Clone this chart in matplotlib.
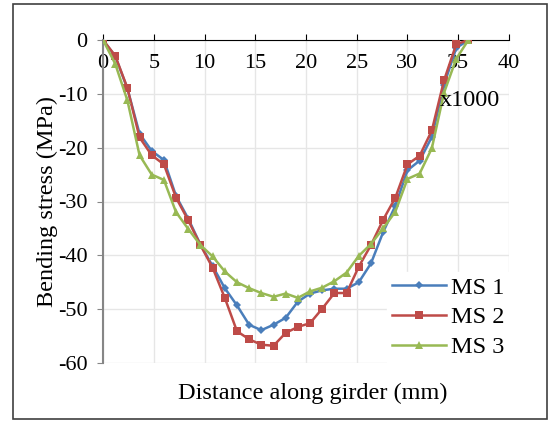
import matplotlib
matplotlib.use('Agg')
import matplotlib.pyplot as plt
from matplotlib.patches import Rectangle

# --- Data (x in thousands of mm, stress in MPa) ---
distance = [0, 1.2, 2.4, 3.6, 4.8, 6.0, 7.2, 8.4, 9.6, 10.8,
            12.0, 13.2, 14.4, 15.6, 16.8, 18.0, 19.2, 20.4, 21.6, 22.8,
            24.0, 25.2, 26.4, 27.6, 28.8, 30.0, 31.2, 32.4, 33.6, 34.8, 36.0]

ms1 = [0, -3.0, -9.0, -17.4, -20.6, -22.3, -29.0, -33.2, -38.0, -42.0,
       -46.1, -49.3, -52.9, -53.9, -52.9, -51.6, -48.6, -47.1, -46.5, -46.2,
       -46.2, -45.0, -41.5, -35.7, -30.8, -24.2, -22.4, -18.0, -8.3, -1.5, 0]

ms2 = [0, -2.9, -8.9, -18.1, -21.4, -23.1, -29.3, -33.5, -38.1, -42.3,
       -47.9, -54.1, -55.6, -56.6, -56.8, -54.4, -53.3, -52.6, -49.9, -47.0,
       -47.0, -42.1, -38.1, -33.4, -29.3, -23.1, -21.5, -16.8, -7.5, -0.8, 0]

ms3 = [0, -4.4, -11.2, -21.4, -25.0, -26.0, -32.0, -35.1, -38.1, -40.2,
       -43.0, -45.0, -46.1, -47.0, -47.7, -47.1, -47.9, -46.7, -46.0, -44.8,
       -43.2, -40.1, -37.9, -35.0, -31.9, -25.8, -24.8, -20.1, -9.8, -3.5, 0]

series = [
    ('MS 1', ms1, '#4a7ebb', 'D', 4),
    ('MS 2', ms2, '#be4b48', 's', 6),
    ('MS 3', ms3, '#98b954', '^', 6),
]

# --- Style ---
FONT = 'Liberation Serif'
FS_TICK = 16
FS_LABEL = 17.5
GRID = '#e6e6e6'
AXIS_GRAY = '#868686'

plt.rcParams['font.family'] = FONT
plt.rcParams['axes.unicode_minus'] = False

fig = plt.figure(figsize=(5.51, 4.21), dpi=100, facecolor='white')
ax = fig.add_axes([103 / 551, 1 - 363 / 421, 406 / 551, 323 / 421])

for name, vals, color, marker, ms in series:
    ax.plot(distance, vals, color=color, lw=1.8, marker=marker,
            markersize=ms, markeredgewidth=0, label=name, zorder=3)

ax.set_xlim(0, 40)
ax.set_ylim(-60, 0)
ax.set_xticks(range(0, 41, 5))
ax.set_yticks(range(-60, 1, 10))
ax.grid(True, color=GRID, lw=1)
ax.set_axisbelow(True)

# x axis sits on top (y=0), labels drawn below the line
ax.tick_params(axis='x', top=True, bottom=False, labeltop=True,
               labelbottom=False, direction='out', length=4,
               color='black', labelsize=FS_TICK, pad=-28)
ax.tick_params(axis='y', direction='out', length=4, color=AXIS_GRAY,
               labelsize=FS_TICK, pad=7)

for s in ('right', 'bottom'):
    ax.spines[s].set_visible(False)
ax.spines['top'].set_color('black')
ax.spines['left'].set_color(AXIS_GRAY)
ax.spines['left'].set_linewidth(1.5)

ax.set_ylabel('Bending stress (MPa)', fontsize=FS_LABEL)
ax.yaxis.set_label_coords(-0.111, 0.5)
fig.text(313 / 551, 1 - 393 / 421, 'Distance along girder (mm)',
         fontsize=FS_LABEL, ha='center', va='center')
fig.text(470 / 551, 1 - 100 / 421, 'x1000', fontsize=FS_LABEL,
         ha='center', va='center')

leg = ax.legend(loc='lower right', bbox_to_anchor=(1.0, 0.0), frameon=True,
                fontsize=FS_LABEL, handlelength=2.2, labelspacing=0.32,
                borderpad=0.2, handletextpad=0.2, fancybox=False,
                borderaxespad=0)
leg.get_frame().set_edgecolor('white')
leg.get_frame().set_facecolor('white')
leg.get_frame().set_alpha(1)

# outer chart border
fig.patches.append(Rectangle((13 / 551, 2 / 421), 534 / 551, 415 / 421,
                             transform=fig.transFigure, fill=False,
                             edgecolor='#404040', lw=1.2))

fig.savefig('out.png', dpi=100, facecolor='white')
